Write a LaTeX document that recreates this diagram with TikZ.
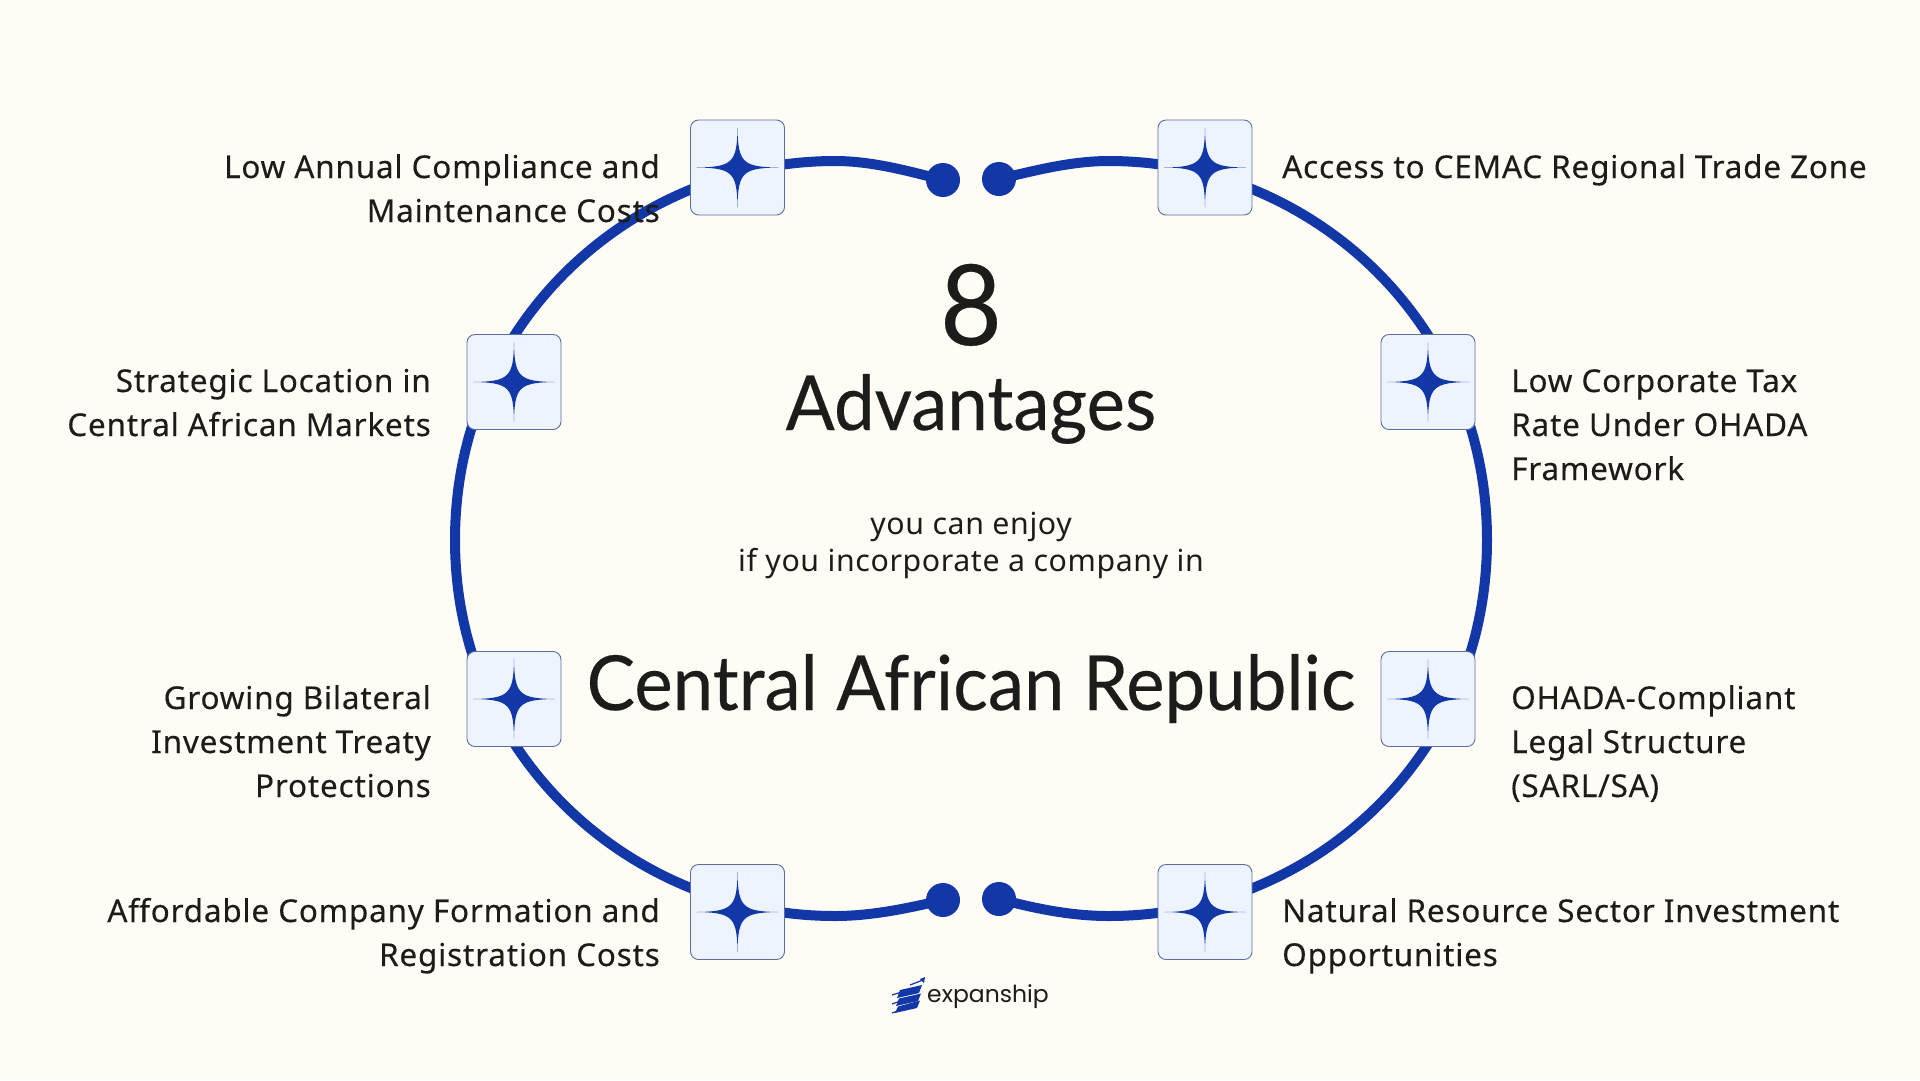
\documentclass[tikz,border=0pt]{standalone}
\usepackage{fontspec}
\setmainfont{Liberation Sans}
\newfontfamily\bodyfont[LetterSpace=2.5,FakeBold=0.2]{Noto Sans}
\newfontfamily\midfont[LetterSpace=2]{Noto Sans}
\newfontfamily\titlefont[FakeStretch=0.955,FakeBold=0.25]{Lato}
\newfontfamily\logofont{Poppins}
\definecolor{paper}{HTML}{FFFCF6}
\definecolor{ringblue}{HTML}{1238A8}
\definecolor{boxfill}{HTML}{EEF4FE}
\definecolor{boxline}{HTML}{5A6F9E}
\definecolor{ink}{HTML}{1C1C1A}
\pgfdeclarelayer{pagelayer}
\pgfdeclarelayer{ringlayer}
\pgfsetlayers{pagelayer,ringlayer,main}
\tikzset{
  x=1pt,y=-1pt,
  iconbox/.style={draw=boxline,line width=0.9pt,fill=boxfill,rounded corners=8pt,minimum width=94pt,minimum height=95pt,inner sep=0pt},
  endcap/.style={circle,fill=ringblue,minimum size=34pt,inner sep=0pt},
  ringline/.style={draw=ringblue,line width=10pt},
  lefttext/.style={anchor=north east,align=right,inner sep=0pt,text=ink,font=\bodyfont\fontsize{31.5}{44}\selectfont},
  righttext/.style={anchor=north west,align=left,inner sep=0pt,text=ink,font=\bodyfont\fontsize{31.5}{44}\selectfont},
  midtext/.style={anchor=base,inner sep=0pt,text=ink,font=\midfont\fontsize{30.3}{37}\selectfont},
  titletext/.style={anchor=base,inner sep=0pt,text=ink,font=\titlefont},
}
\newcommand{\sparkle}[1]{%
  \fill[ringblue,shift={(#1)}] (-41,0) .. controls (-5,-0.5) and (-0.5,-5) .. (0,-40)
    .. controls (0.5,-5) and (5,-0.5) .. (41,0)
    .. controls (5,0.5) and (0.5,5) .. (0,40)
    .. controls (-0.5,5) and (-5,0.5) .. (-41,0) -- cycle;}
\begin{document}
\begin{tikzpicture}
\begin{pgfonlayer}{pagelayer}
\path[use as bounding box,fill=paper] (0,0) rectangle (1920,1080);
\end{pgfonlayer}
\node[iconbox] (b1) at (737.5,167.5) {};
\node[iconbox] (b2) at (1205,167.5) {};
\node[iconbox] (b3) at (514,382) {};
\node[iconbox] (b4) at (1428,382) {};
\node[iconbox] (b5) at (514,699) {};
\node[iconbox] (b6) at (1428,699) {};
\node[iconbox] (b7) at (737.5,912) {};
\node[iconbox] (b8) at (1205,912) {};
\foreach \n in {b1,b2,b3,b4,b5,b6,b7,b8}{\sparkle{\n}}
\node[endcap] (d1) at (943,180) {};
\node[endcap] (d2) at (999,179) {};
\node[endcap] (d3) at (943,900) {};
\node[endcap] (d4) at (999,899) {};
\coordinate (tl) at (835,161);
\coordinate (tr) at (1109,161);
\coordinate (bl) at (835,916);
\coordinate (br) at (1109,916);
\coordinate (lx) at (455,540);
\coordinate (rx) at (1487,540);
\begin{pgfonlayer}{ringlayer}
\draw[ringline] (d1.center) .. controls (905,170) and (870,161) .. (tl)
  .. controls (635,161) and (455,320) .. (lx)
  .. controls (455,760) and (635,916) .. (bl)
  .. controls (870,916) and (905,909) .. (d3.center);
\draw[ringline] (d2.center) .. controls (1037,170) and (1072,161) .. (tr)
  .. controls (1309,161) and (1487,320) .. (rx)
  .. controls (1487,760) and (1309,916) .. (br)
  .. controls (1072,916) and (1037,909) .. (d4.center);
\end{pgfonlayer}
\node[titletext,font=\titlefont\fontsize{112}{112}\selectfont] (t8) at (971,345) {8};
\node[titletext,font=\titlefont\fontsize{76}{76}\selectfont] (tadv) at (971,430) {Advantages};
\node[midtext] (t1) at (971,534) {you can enjoy};
\node[midtext] (t2) at (971,571) {if you incorporate a company in};
\node[titletext,font=\titlefont\fontsize{76}{76}\selectfont] (tcar) at (971,710) {Central African Republic};
\node[lefttext] (l1) at (660,147) {\strut Low Annual Compliance and\\Maintenance Costs};
\node[lefttext] (l2) at (431,361) {\strut Strategic Location in\\Central African Markets};
\node[lefttext] (l3) at (431,678) {\strut Growing Bilateral\\Investment Treaty\\Protections};
\node[lefttext] (l4) at (660,891) {\strut Affordable Company Formation and\\Registration Costs};
\node[righttext] (r1) at (1282,147) {\strut Access to CEMAC Regional Trade Zone};
\node[righttext] (r2) at (1511,361) {\strut Low Corporate Tax\\Rate Under OHADA\\Framework};
\node[righttext] (r3) at (1511,678) {\strut OHADA-Compliant\\Legal Structure\\(SARL/SA)};
\node[righttext] (r4) at (1282,891) {\strut Natural Resource Sector Investment\\Opportunities};
% logo mark
\fill[ringblue] (900,990) -- (922,985) -- (919,993) -- (897,998) -- cycle;
\fill[ringblue] (899,998.5) -- (921,993.5) -- (918,1001) -- (896,1006) -- cycle;
\fill[ringblue] (898,1006.5) -- (920,1000.5) -- (917,1008) -- (895,1013) -- cycle;
\draw[ringblue,line width=1.2pt] (892,995) -- (900,992.5) (892,1004) -- (899,1001.5) (892,1013) -- (899,1010.5);
\draw[ringblue,line width=1.2pt] (910,985) -- (923,980);
\fill[ringblue] (925,977) -- (924,983) -- (920,979) -- cycle;
\node[anchor=base west,inner sep=0pt,text=ink,font=\logofont\fontsize{23.5}{23.5}\selectfont] (logo) at (927,1002) {expanship};
\end{tikzpicture}
\end{document}
